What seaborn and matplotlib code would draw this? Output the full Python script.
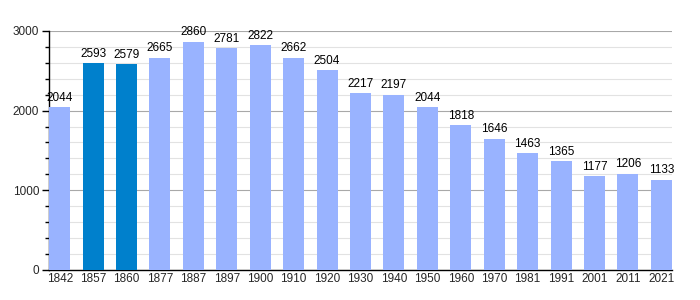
import matplotlib
matplotlib.use("Agg")
import matplotlib.pyplot as plt
import seaborn as sns
import pandas as pd
from matplotlib.ticker import MultipleLocator

years = ["1842", "1857", "1860", "1877", "1887", "1897", "1900", "1910", "1920", "1930",
         "1940", "1950", "1960", "1970", "1981", "1991", "2001", "2011", "2021"]
population = [2044, 2593, 2579, 2665, 2860, 2781, 2822, 2662, 2504, 2217,
              2197, 2044, 1818, 1646, 1463, 1365, 1177, 1206, 1133]
highlight = ["1857", "1860"]

light = "#99b3ff"
dark = "#0080cc"

sns.set_theme(style="white")
plt.rcParams['font.family'] = ['Liberation Sans', 'DejaVu Sans']

df = pd.DataFrame({"year": years, "pop": population})
palette = {y: (dark if y in highlight else light) for y in years}

fig = plt.figure(figsize=(7, 3), dpi=100)
ax = fig.add_axes([0.07, 0.1, 0.89, 0.797])
sns.barplot(data=df, x="year", y="pop", hue="year", palette=palette, legend=False,
            width=0.63, ax=ax, saturation=1, zorder=3, linewidth=0, edgecolor="none")

ax.set_ylim(0, 3000)
ax.set_xlim(-0.32, len(years) - 0.68)
ax.yaxis.set_major_locator(MultipleLocator(1000))
ax.yaxis.set_minor_locator(MultipleLocator(200))
ax.grid(which="major", axis="y", color="#a8a8a8", linewidth=0.8, zorder=0)
ax.grid(which="minor", axis="y", color="#e2e2e2", linewidth=0.8, zorder=0)
ax.set_axisbelow(True)

for s in ["top", "right"]:
    ax.spines[s].set_visible(False)
ax.spines["left"].set_color("black")
ax.spines["bottom"].set_color("black")
ax.spines["left"].set_linewidth(1)
ax.spines["bottom"].set_linewidth(1)

ax.tick_params(axis="y", which="major", left=True, length=5, width=1, color="black", labelsize=8.5, pad=2)
ax.tick_params(axis="y", which="minor", left=True, length=3, width=1, color="black")
ax.tick_params(axis="x", which="major", bottom=False, length=0, labelsize=8.5, pad=2)

ax.set_xlabel("")
ax.set_ylabel("")

for i, v in enumerate(population):
    ax.text(i, v + 45, str(v), ha="center", va="bottom", fontsize=8.5, color="black", clip_on=False)

fig.savefig("out.png", dpi=100)
